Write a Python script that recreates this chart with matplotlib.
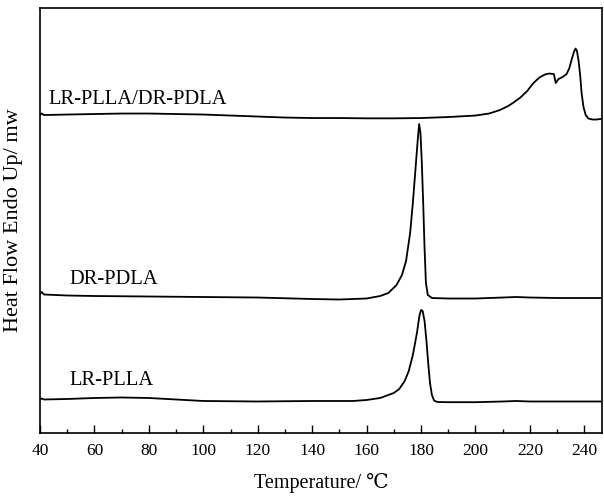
import numpy as np
import matplotlib.pyplot as plt

plt.rcParams['font.family'] = ['Liberation Serif', 'DejaVu Serif']

# heat flow (arbitrary units, endo up)
t_blend = [40, 40.6, 41.5, 50, 60, 70, 80, 90, 100, 110, 120, 130, 140, 150, 160, 170,
           180, 190, 200, 205, 209, 212, 214, 216.5, 219, 221.3, 223.5, 225.5, 227,
           228.8, 229.5, 230.5, 232, 233.5, 234.5, 235.5, 236.3, 236.8, 237.3, 237.9,
           238.5, 239, 239.7, 240.5, 241.5, 243, 244.5, 246.5]
hf_blend = [318, 319.5, 318, 318.5, 319, 319.5, 319.5, 319, 318.5, 317.5, 316.5, 315.5,
            315, 315, 314.7, 314.7, 315, 316, 317.5, 319.5, 323, 327, 330.5, 335.5, 342,
            350, 355.5, 358.5, 359.5, 359, 350, 354, 356, 359, 365, 375, 382, 384.5, 382,
            372, 357, 340, 326, 318, 314.5, 313.5, 313.5, 314.3]

t_pdla = [40, 40.6, 41.5, 50, 60, 80, 100, 120, 140, 150, 160, 165, 168, 171, 173,
          174.5, 176, 177, 178, 178.7, 179.3, 179.8, 180.3, 180.8, 181.3, 181.8, 182.5,
          184, 190, 200, 210, 215, 220, 230, 246.5]
hf_pdla = [139, 141, 138.5, 137.5, 137, 136.5, 136, 135.5, 134, 133.5, 134.5, 137, 140,
           148, 158, 172, 200, 230, 265, 290, 309, 300, 270, 230, 185, 150, 138, 135,
           134.5, 134.5, 135.5, 136, 135.5, 135, 135]

t_plla = [40, 40.6, 41.5, 50, 60, 70, 80, 90, 100, 120, 140, 155, 160, 165, 170, 172,
          174, 175.5, 177, 178.5, 179.4, 180, 180.6, 181.3, 182, 182.7, 183.3, 184,
          184.8, 186, 190, 200, 210, 215, 220, 230, 246.5]
hf_plla = [33.5, 34.5, 33.5, 34, 35, 35.5, 35, 33.5, 32, 31.5, 32, 32, 33, 35, 40, 44, 52,
           62, 78, 100, 117, 123, 122, 112, 92, 68, 50, 38, 32.5, 31, 30.8, 30.8, 31.5,
           32, 31.5, 31.5, 31.5]

labels = ['LR-PLLA/DR-PDLA', 'DR-PDLA', 'LR-PLLA']
label_pos = [(43, 334), (51, 154), (51, 52)]

fig = plt.figure(figsize=(6.04, 4.97), dpi=100)
ax = fig.add_axes([0.0662, 0.1288, 0.9305, 0.855])

for t, hf in [(t_blend, hf_blend), (t_pdla, hf_pdla), (t_plla, hf_plla)]:
    ax.plot(t, hf, color='black', lw=1.3)

for lab, (x, y) in zip(labels, label_pos):
    ax.text(x, y, lab, fontsize=14.8, va='center', ha='left')

ax.set_xlim(40, 246.5)
ax.set_ylim(0, 425)
ax.set_xticks(np.arange(40, 241, 20))
ax.set_xticks(np.arange(50, 241, 20), minor=True)
ax.set_yticks([])
ax.tick_params(axis='x', which='major', direction='in', length=6, width=1, labelsize=12.5, pad=7)
ax.tick_params(axis='x', which='minor', direction='in', length=3, width=1)
for s in ax.spines.values():
    s.set_linewidth(1.2)

ax.set_xlabel('Temperature/ ℃', fontsize=14.5, labelpad=10)
ax.set_ylabel('Heat Flow Endo Up/ mw', fontsize=16, labelpad=12)

plt.savefig('out.png', dpi=100)
